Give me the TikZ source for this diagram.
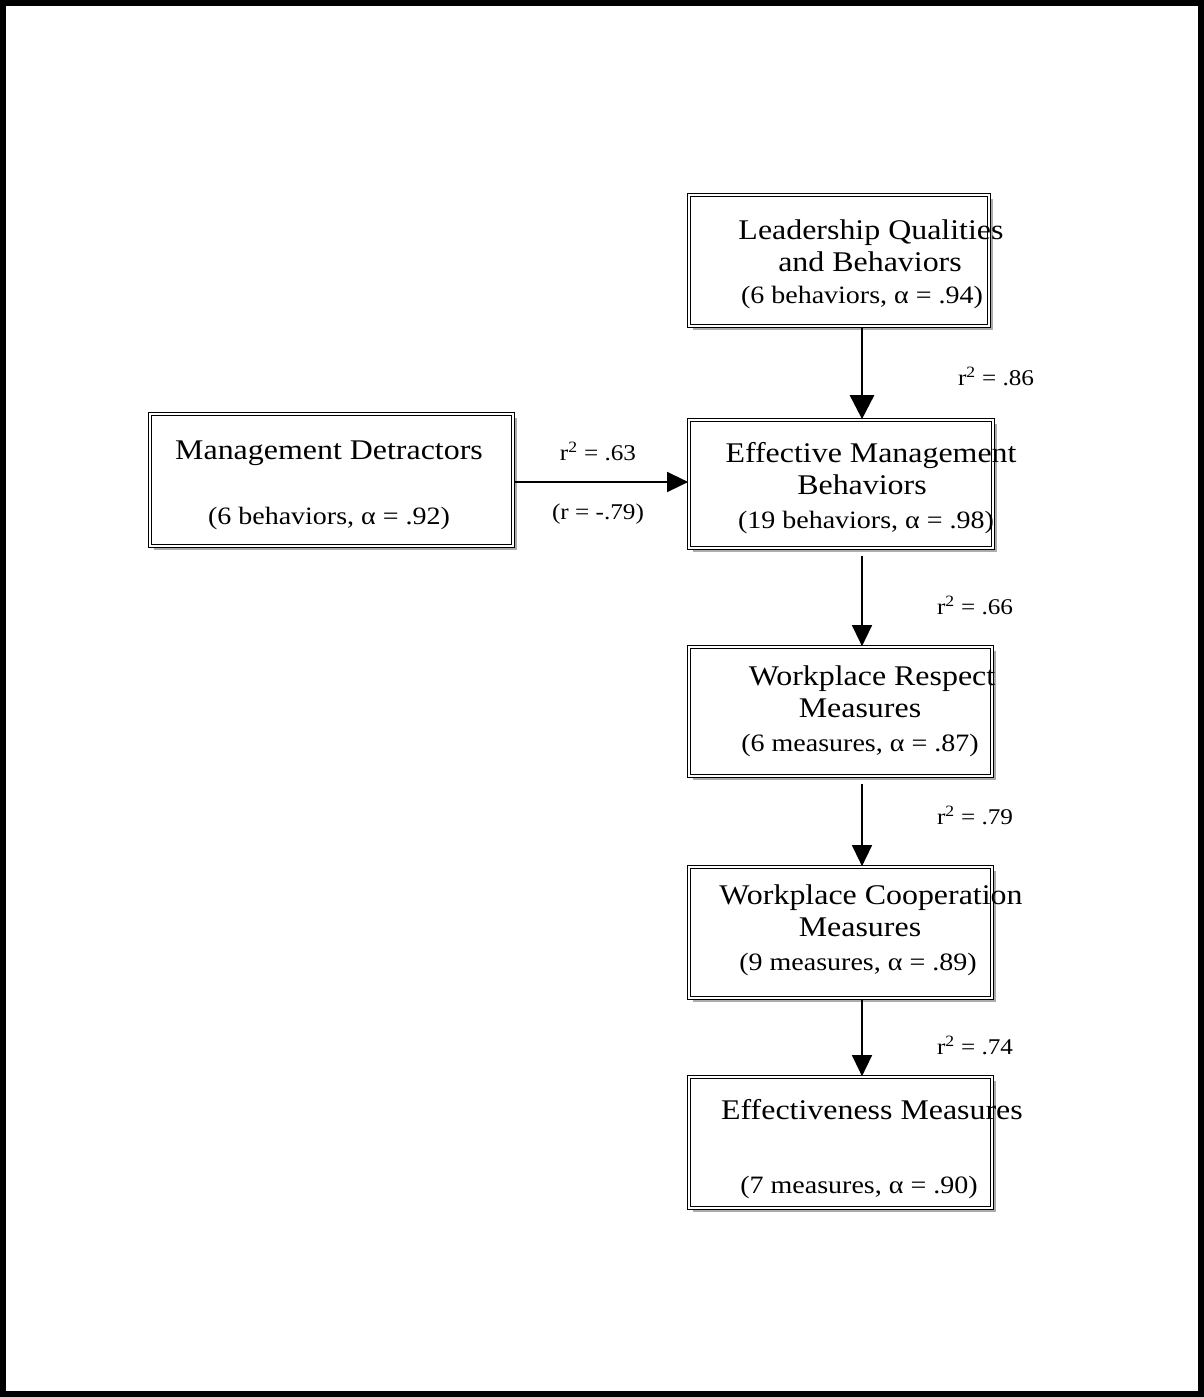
\documentclass[tikz,border=0pt]{standalone}
\usepackage{fontspec}
\setmainfont[FakeStretch=1.12]{Liberation Serif}
\usetikzlibrary{arrows.meta,shadows}
\begin{document}
\begin{tikzpicture}[x=1pt,y=-1pt,
  box/.style={rectangle,draw,double,double distance=1.3pt,line width=1.7pt,fill=white,
    drop shadow={shadow xshift=3.5pt,shadow yshift=-3.5pt,fill=gray!65,opacity=1},inner sep=0pt},
  big/.style={font=\fontsize{28.5}{32}\selectfont,inner sep=0pt,anchor=base},
  small/.style={font=\fontsize{25}{28}\selectfont,inner sep=0pt,anchor=base},
  lab/.style={font=\fontsize{22.5}{26}\selectfont,inner sep=0pt,anchor=base},
  arr/.style={-{Triangle[width=20pt,length=21pt]},line width=1.4pt},
  arrthick/.style={-{Triangle[width=24pt,length=24pt]},line width=2.8pt}]
\useasboundingbox (0,0) rectangle (1204,1397);
\draw[line width=6pt] (3,3) rectangle (1201,1394);
\node[box,minimum width=300pt,minimum height=131pt] (lead) at (839,260.5) {};
\node[box,minimum width=363pt,minimum height=132pt] (det) at (331.5,480) {};
\node[box,minimum width=304pt,minimum height=128pt] (eff) at (841,484) {};
\node[box,minimum width=303pt,minimum height=129pt] (resp) at (840.5,711.5) {};
\node[box,minimum width=303pt,minimum height=131pt] (coop) at (840.5,932.5) {};
\node[box,minimum width=303pt,minimum height=131pt] (effm) at (840.5,1142.5) {};
% texts
\node[big] (t1) at (871,239) {Leadership Qualities};
\node[big] (t2) at (870,271) {and Behaviors};
\node[small] (t3) at (862,303) {(6 behaviors, α = .94)};
\node[big] (t4) at (329,459) {Management Detractors};
\node[small] (t5) at (329,524) {(6 behaviors, α = .92)};
\node[big] (t6) at (871,462) {Effective Management};
\node[big] (t7) at (862,494) {Behaviors};
\node[small] (t8) at (866,528) {(19 behaviors, α = .98)};
\node[big] (t9) at (872,685) {Workplace Respect};
\node[big] (t10) at (860,717) {Measures};
\node[small] (t11) at (860,751) {(6 measures, α = .87)};
\node[big] (t12) at (871,904) {Workplace Cooperation};
\node[big] (t13) at (860,936) {Measures};
\node[small] (t14) at (858,970) {(9 measures, α = .89)};
\node[big] (t15) at (872,1119) {Effectiveness Measures};
\node[small] (t16) at (859,1193) {(7 measures, α = .90)};
% labels
\node[lab] (l1) at (996,385) {r\textsuperscript{2} = .86};
\node[lab] (l2) at (598,460) {r\textsuperscript{2} = .63};
\node[lab] (l3) at (598,519) {(r = -.79)};
\node[lab] (l4) at (975,614) {r\textsuperscript{2} = .66};
\node[lab] (l5) at (975,824) {r\textsuperscript{2} = .79};
\node[lab] (l6) at (975,1054) {r\textsuperscript{2} = .74};
% arrows
\draw[arrthick] ([xshift=23pt]lead.south) -- ([xshift=21pt]eff.north);
\draw[arr] ([xshift=21pt,yshift=-7pt]eff.south) -- ([xshift=21.5pt]resp.north);
\draw[arr] ([xshift=21.5pt,yshift=-7pt]resp.south) -- ([xshift=21.5pt]coop.north);
\draw[arr] ([xshift=21.5pt]coop.south) -- ([xshift=21.5pt]effm.north);
\draw[arr] (det.east |- 0,482) -- (eff.west |- 0,482);
\end{tikzpicture}
\end{document}
